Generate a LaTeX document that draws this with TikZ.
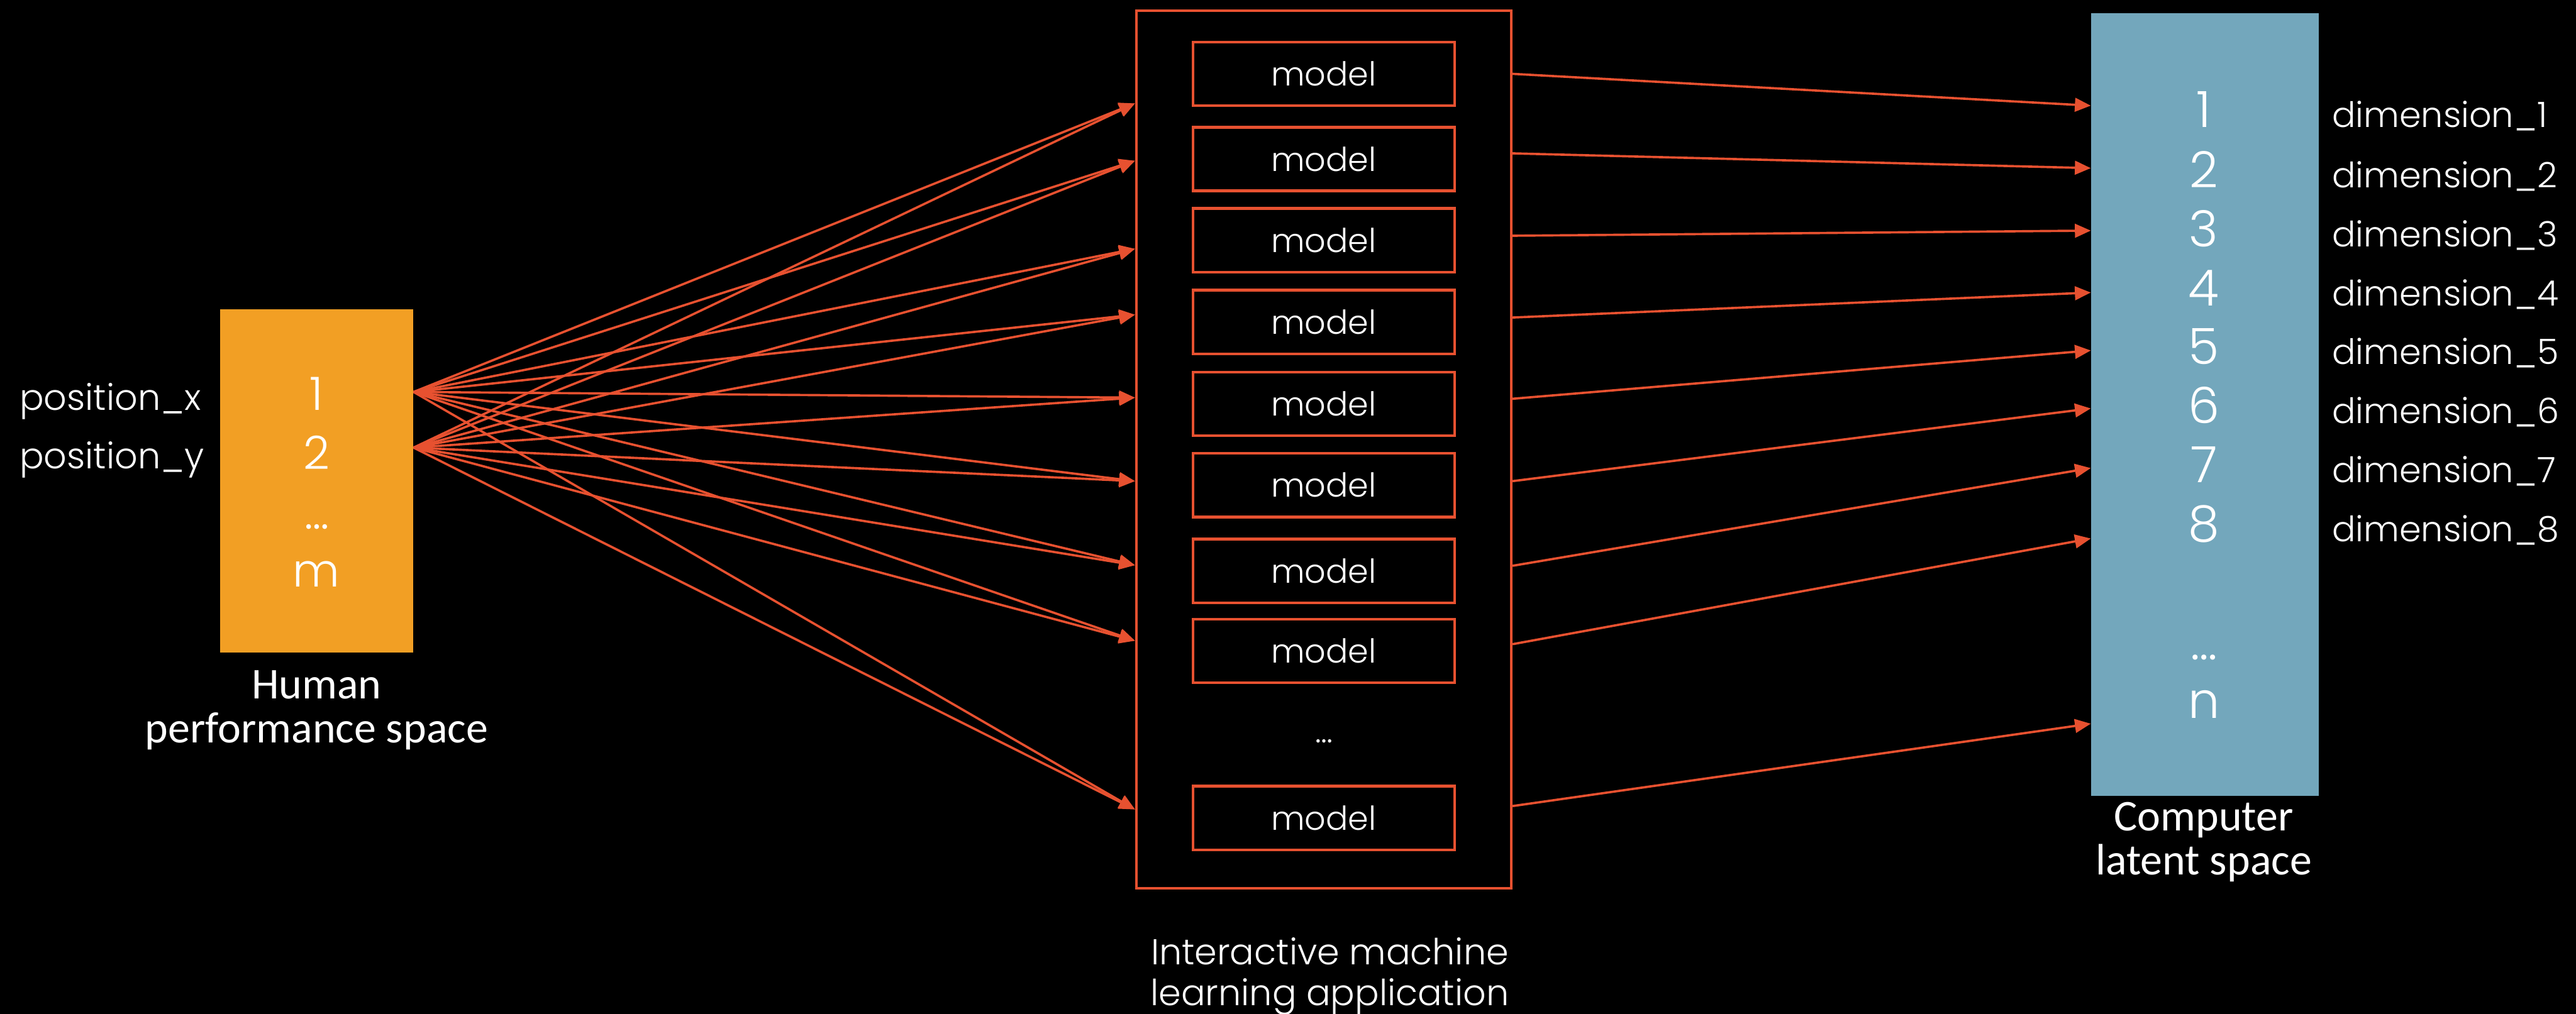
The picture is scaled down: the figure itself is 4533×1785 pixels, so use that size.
\documentclass[tikz,border=0pt]{standalone}
\usepackage{fontspec}
\setmainfont{Poppins}[UprightFont=* Light]
\newfontfamily\capfont{Carlito}
\usetikzlibrary{arrows.meta}

\definecolor{imlorange}{RGB}{242,159,36}
\definecolor{imlred}{RGB}{231,81,48}
\definecolor{imlblue}{RGB}{115,167,188}

\tikzset{
  modelbox/.style={draw=imlred, line width=1.4pt, minimum width=4.6cm, minimum height=1.12cm,
    inner sep=0pt, text=white, font=\fontsize{16.5}{20}\selectfont},
  flow/.style={draw=imlred, line width=1.15pt, -{Triangle[length=0.28cm,width=0.24cm]}},
  wtext/.style={text=white, inner sep=0pt},
}

\begin{document}
\begin{tikzpicture}[x=0.01cm,y=0.01cm,yscale=-1]
    %Background
    \fill[black] (0,0) rectangle (4533,1785);
    \useasboundingbox (0,0) rectangle (4533,1785);

    %Shape: Rectangle (human performance space)
    \node[fill=imlorange, minimum width=3.4cm, minimum height=6.04cm, inner sep=0pt] (hps) at (557,847) {};
    %Shape: Rectangle (interactive machine learning application)
    \node[draw=imlred, line width=1.4pt, minimum width=6.59cm, minimum height=15.44cm, inner sep=0pt] (app) at (2329.5,791) {};
    %Shape: Rectangle (computer latent space)
    \node[fill=imlblue, minimum width=4cm, minimum height=13.77cm, inner sep=0pt] (latent) at (3880,712.5) {};

    %Models
    \foreach \y [count=\i] in {130,280,423,567,711,854,1005,1146,1440}
      \node[modelbox] (m\i) at (2329.5,\y) {model};
    \node[wtext, anchor=base, font=\fontsize{16.5}{20}\selectfont] (mdots) at (2329.5,1307) {\dots};

    % Text Node
    \node[wtext, anchor=base west, font=\fontsize{18}{22}\selectfont] (posx) at (34,722) {position\_x};
    \node[wtext, anchor=base west, font=\fontsize{18}{22}\selectfont] (posy) at (34,825) {position\_y};
    % Text Node
    \node[wtext, anchor=base, font=\fontsize{23}{27}\selectfont] (h1) at (557,722) {1};
    \node[wtext, anchor=base, font=\fontsize{23}{27}\selectfont] (h2) at (557,826) {2};
    \node[wtext, anchor=base, font=\fontsize{23}{27}\selectfont] (hdots) at (557,931) {\dots};
    \node[wtext, anchor=base, font=\fontsize{23}{27}\selectfont] (hm) at (557,1033) {m};
    % Text Node
    \node[wtext, anchor=base, font=\capfont\fontsize{22}{26}\selectfont] (hcap1) at (557,1230) {Human};
    \node[wtext, anchor=base, font=\capfont\fontsize{22}{26}\selectfont] (hcap2) at (557,1308) {performance space};
    % Text Node
    \node[wtext, anchor=base, font=\fontsize{18}{22}\selectfont] (acap1) at (2340,1698) {Interactive machine};
    \node[wtext, anchor=base, font=\fontsize{18}{22}\selectfont] (acap2) at (2340,1770) {learning application};
    % Text Node
    \foreach \y [count=\i] in {224,330,434,538,641,745,849,953} {
      \node[wtext, anchor=base, font=\fontsize{25}{29}\selectfont] (l\i) at (3878,\y) {\i};
      \node[wtext, anchor=base west, font=\fontsize{17.5}{21}\selectfont] (d\i) at (4103,\y) {dimension\_\i};
    }
    \node[wtext, anchor=base, font=\fontsize{25}{29}\selectfont] (ldots) at (3878,1161) {\dots};
    \node[wtext, anchor=base, font=\fontsize{25}{29}\selectfont] (ln) at (3878,1264) {n};
    % Text Node
    \node[wtext, anchor=base, font=\capfont\fontsize{22}{26}\selectfont] (lcap1) at (3878,1463) {Computer};
    \node[wtext, anchor=base, font=\capfont\fontsize{22}{26}\selectfont] (lcap2) at (3878,1540) {latent space};

    %Ports
    \coordinate (x1) at (hps.east |- 0,690);
    \coordinate (x2) at (hps.east |- 0,788);
    \foreach \y [count=\i] in {182,283,438,554,700,847,995,1128,1425}
      \coordinate (in\i) at (app.west |- 0,\y);
    \foreach \y [count=\i] in {130,270,415,559,702,847,996,1134,1419}
      \coordinate (out\i) at (app.east |- 0,\y);
    \foreach \y [count=\i] in {186,296,406,515,617,719,824,948,1274}
      \coordinate (dim\i) at (latent.west |- 0,\y);

    %Straight Lines
    \foreach \i in {1,...,9} {
      \draw[flow] (x1) -- (in\i);
      \draw[flow] (x2) -- (in\i);
      \draw[flow] (out\i) -- (dim\i);
    }
\end{tikzpicture}
\end{document}
